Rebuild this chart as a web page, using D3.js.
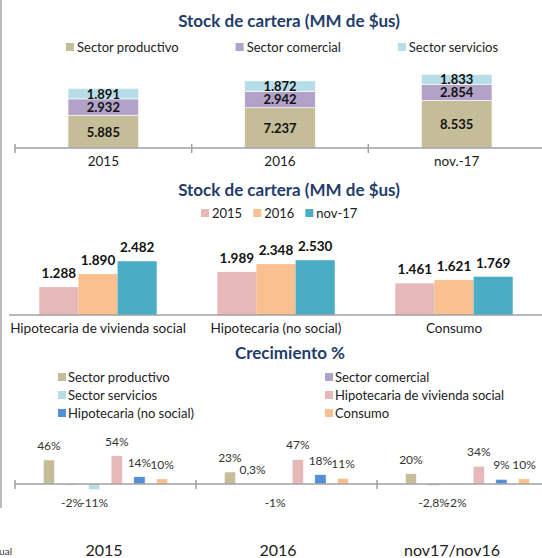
<!DOCTYPE html>
<html>
<head>
<meta charset="utf-8">
<script src="https://cdn.jsdelivr.net/npm/d3@7"></script>
<style>
  body { margin: 0; background: #fff; }
  svg { display: block; font-family: Lato, "Open Sans", sans-serif; }
</style>
</head>
<body>
<svg id="chart" width="542" height="558"></svg>
<script>
// chart 1: stock by sector
const stockYears = ["2015", "2016", "nov.-17"];
const sectorNames = ["Sector productivo", "Sector comercial", "Sector servicios"];
const productivo = [5885, 7237, 8535];
const comercial = [2932, 2942, 2854];
const servicios = [1891, 1872, 1833];

// chart 2: stock by credit type
const creditTypes = ["Hipotecaria de vivienda social", "Hipotecaria (no social)", "Consumo"];
const stockPeriods = ["2015", "2016", "nov-17"];
const stock2015 = [1288, 1989, 1461];
const stock2016 = [1890, 2348, 1621];
const stockNov17 = [2482, 2530, 1769];

// chart 3: growth %
const growthPeriods = ["2015", "2016", "nov17/nov16"];
const growthNames = ["Sector productivo", "Sector comercial", "Sector servicios",
  "Hipotecaria de vivienda social", "Hipotecaria (no social)", "Consumo"];
const growthProductivo = [46, 23, 20];
const growthComercial = [-2, 0.3, -2.8];
const growthServicios = [-11, -1, -2];
const growthHipSocial = [54, 47, 34];
const growthHipNoSocial = [14, 18, 9];
const growthConsumo = [10, 11, 10];

const C = {
  productivo: "#C4BD97", comercial: "#B3A2C7", servicios: "#B7DEE8",
  y2015: "#E6B9B8", y2016: "#FAC090", nov17: "#4BACC6",
  hipNoSocial: "#558ED5", title: "#1F3D6B", axis: "#A0A0A0"
};

const loc = d3.formatLocale({decimal: ",", thousands: ".", grouping: [3], currency: ["$", ""], minus: "-"});
const fmtN = loc.format(",d");
const fmtPct = v => (Number.isInteger(v) ? loc.format("d")(v) : loc.format(".1f")(v)) + "%";

const svg = d3.select("#chart");

// left edge of the neighbouring frame
svg.append("line")
  .attr("x1", 1).attr("x2", 1).attr("y1", 0).attr("y2", 508)
  .attr("stroke", "#A6A6A6").attr("stroke-width", 1.5);

function title(text, y) {
  svg.append("text")
    .attr("x", 289).attr("y", y)
    .attr("text-anchor", "middle")
    .attr("font-size", 17).attr("font-weight", "bold")
    .attr("fill", C.title)
    .text(text);
}

// row legend, items laid out by measured text width
function rowLegend(items, x, y, gap) {
  const g = svg.append("g").attr("font-size", 13);
  let cx = x;
  items.forEach(it => {
    g.append("rect").attr("x", cx).attr("y", y - 4).attr("width", 8).attr("height", 8).attr("fill", it.color);
    const t = g.append("text").attr("x", cx + 11).attr("y", y + 4.5).attr("fill", "#222").text(it.name);
    cx += 11 + t.node().getComputedTextLength() + gap;
  });
}

function axisLine(x1, x2, y) {
  svg.append("line")
    .attr("x1", x1).attr("x2", x2).attr("y1", y).attr("y2", y)
    .attr("stroke", C.axis).attr("stroke-width", 1.5);
}

// ---------- chart 1 ----------
title("Stock de cartera (MM de $us)", 27);
rowLegend([
  {name: sectorNames[0], color: C.productivo},
  {name: sectorNames[1], color: C.comercial},
  {name: sectorNames[2], color: C.servicios}
], 66, 47, 57);

const rows1 = stockYears.map((y, i) => ({year: y, productivo: productivo[i], comercial: comercial[i], servicios: servicios[i]}));
const keys1 = ["productivo", "comercial", "servicios"];
const stacked = d3.stack().keys(keys1)(rows1);

const x1 = d3.scaleBand().domain(stockYears).range([15, 545]).paddingInner(0.6).paddingOuter(0.3);
const y1 = d3.scaleLinear().domain([0, 14000]).range([148, 70]);

const g1 = svg.append("g");
stacked.forEach(layer => {
  g1.selectAll(null).data(layer).join("rect")
    .attr("x", d => x1(d.data.year))
    .attr("width", x1.bandwidth())
    .attr("y", d => y1(d[1]))
    .attr("height", d => y1(d[0]) - y1(d[1]))
    .attr("fill", C[layer.key])
    .attr("stroke", "#fff").attr("stroke-width", 0.6);
  g1.selectAll(null).data(layer).join("text")
    .attr("x", d => x1(d.data.year) + x1.bandwidth() / 2)
    .attr("y", d => (y1(d[0]) + y1(d[1])) / 2 + 5)
    .attr("text-anchor", "middle")
    .attr("font-size", 13).attr("font-weight", "bold").attr("fill", "#111")
    .text(d => fmtN(d.data[layer.key]));
});

axisLine(15, 542, 148);
const step1 = x1.step();
g1.selectAll(null).data(stockYears).join("line")
  .attr("x1", d => x1(d) - step1 * 0.3).attr("x2", d => x1(d) - step1 * 0.3)
  .attr("y1", 144).attr("y2", 153)
  .attr("stroke", C.axis).attr("stroke-width", 1.5);
g1.selectAll(null).data(stockYears).join("text")
  .attr("x", d => x1(d) + x1.bandwidth() / 2)
  .attr("y", 166)
  .attr("text-anchor", "middle").attr("font-size", 13.5).attr("fill", "#222")
  .text(d => d);

// ---------- chart 2 ----------
title("Stock de cartera (MM de $us)", 196);
rowLegend([
  {name: stockPeriods[0], color: C.y2015},
  {name: stockPeriods[1], color: C.y2016},
  {name: stockPeriods[2], color: C.nov17}
], 201, 213, 11);

const rows2 = creditTypes.map((c, i) => ({cat: c, values: [stock2015[i], stock2016[i], stockNov17[i]]}));
const colors2 = [C.y2015, C.y2016, C.nov17];
const x2 = d3.scaleBand().domain(creditTypes).range([9, 543]).paddingInner(0.34).paddingOuter(0.17);
const x2s = d3.scaleBand().domain(stockPeriods).range([0, x2.bandwidth()]);
const y2 = d3.scaleLinear().domain([0, 3000]).range([315, 250]);

const g2 = svg.append("g");
rows2.forEach(r => {
  const gg = g2.append("g").attr("transform", `translate(${x2(r.cat)},0)`);
  gg.selectAll("rect").data(r.values).join("rect")
    .attr("x", (d, i) => x2s(stockPeriods[i]))
    .attr("width", x2s.bandwidth())
    .attr("y", d => y2(d))
    .attr("height", d => y2(0) - y2(d))
    .attr("fill", (d, i) => colors2[i]);
  gg.selectAll("text").data(r.values).join("text")
    .attr("x", (d, i) => x2s(stockPeriods[i]) + x2s.bandwidth() / 2)
    .attr("y", d => y2(d) - 9)
    .attr("text-anchor", "middle")
    .attr("font-size", 13.5).attr("font-weight", "bold").attr("fill", "#111")
    .text(d => fmtN(d));
});
axisLine(9, 542, 315);
g2.selectAll(".cat").data(creditTypes).join("text")
  .attr("x", d => x2(d) + x2.bandwidth() / 2)
  .attr("y", 333)
  .attr("text-anchor", "middle").attr("font-size", 13.5).attr("fill", "#222")
  .text(d => d);

// ---------- chart 3 ----------
svg.append("text")
  .attr("x", 290).attr("y", 359)
  .attr("text-anchor", "middle")
  .attr("font-size", 17).attr("font-weight", "bold")
  .attr("fill", C.title)
  .text("Crecimiento %");

const colors3 = [C.productivo, C.comercial, C.servicios, C.y2015, C.hipNoSocial, C.y2016];
const leg3 = svg.append("g").attr("font-size", 13);
growthNames.forEach((n, i) => {
  const lx = i % 2 === 0 ? 58 : 325;
  const ly = 377 + Math.floor(i / 2) * 18;
  leg3.append("rect").attr("x", lx).attr("y", ly - 4).attr("width", 8).attr("height", 8).attr("fill", colors3[i]);
  leg3.append("text").attr("x", lx + 10).attr("y", ly + 4.5).attr("fill", "#222").text(n);
});

const growthSeries = [growthProductivo, growthComercial, growthServicios, growthHipSocial, growthHipNoSocial, growthConsumo];
const x3 = d3.scaleBand().domain(growthPeriods).range([15, 558]);
const x3s = d3.scaleBand().domain(growthNames).range([0, x3.bandwidth()]).paddingInner(0.5).paddingOuter(1.25);
const y3 = d3.scaleLinear().domain([-20, 60]).range([494.5, 452.6]);

const g3 = svg.append("g");
growthPeriods.forEach((p, pi) => {
  const vals = growthSeries.map((s, si) => ({name: growthNames[si], v: s[pi], c: colors3[si]}));
  const gg = g3.append("g").attr("transform", `translate(${x3(p)},0)`);
  gg.selectAll("rect").data(vals).join("rect")
    .attr("x", d => x3s(d.name))
    .attr("width", x3s.bandwidth())
    .attr("y", d => y3(Math.max(0, d.v)))
    .attr("height", d => Math.abs(y3(d.v) - y3(0)))
    .attr("fill", d => d.c)
    .attr("stroke", "#fff").attr("stroke-width", 0.6);
  gg.selectAll("text").data(vals).join("text")
    .attr("x", d => x3s(d.name) + x3s.bandwidth() / 2)
    .attr("y", d => d.v >= 0 ? y3(d.v) - 10 : y3(0) + 23)
    .attr("text-anchor", "middle")
    .attr("font-size", 12).attr("fill", "#333")
    .text(d => fmtPct(d.v));
});
axisLine(15, 542, 484);
g3.selectAll(".tick").data(growthPeriods).join("line")
  .attr("x1", d => x3(d)).attr("x2", d => x3(d))
  .attr("y1", 480).attr("y2", 489)
  .attr("stroke", C.axis).attr("stroke-width", 1.5);

// period captions under the growth chart
const xCap = d3.scalePoint().domain(growthPeriods).range([104, 452]);
g3.selectAll(".cap").data(growthPeriods).join("text")
  .attr("x", d => xCap(d))
  .attr("y", 556)
  .attr("text-anchor", "middle").attr("font-size", 16).attr("fill", "#222")
  .text(d => d);

svg.append("text")
  .attr("x", 12).attr("y", 555)
  .attr("text-anchor", "end").attr("font-size", 10).attr("fill", "#333")
  .text("anual");
</script>
</body>
</html>
